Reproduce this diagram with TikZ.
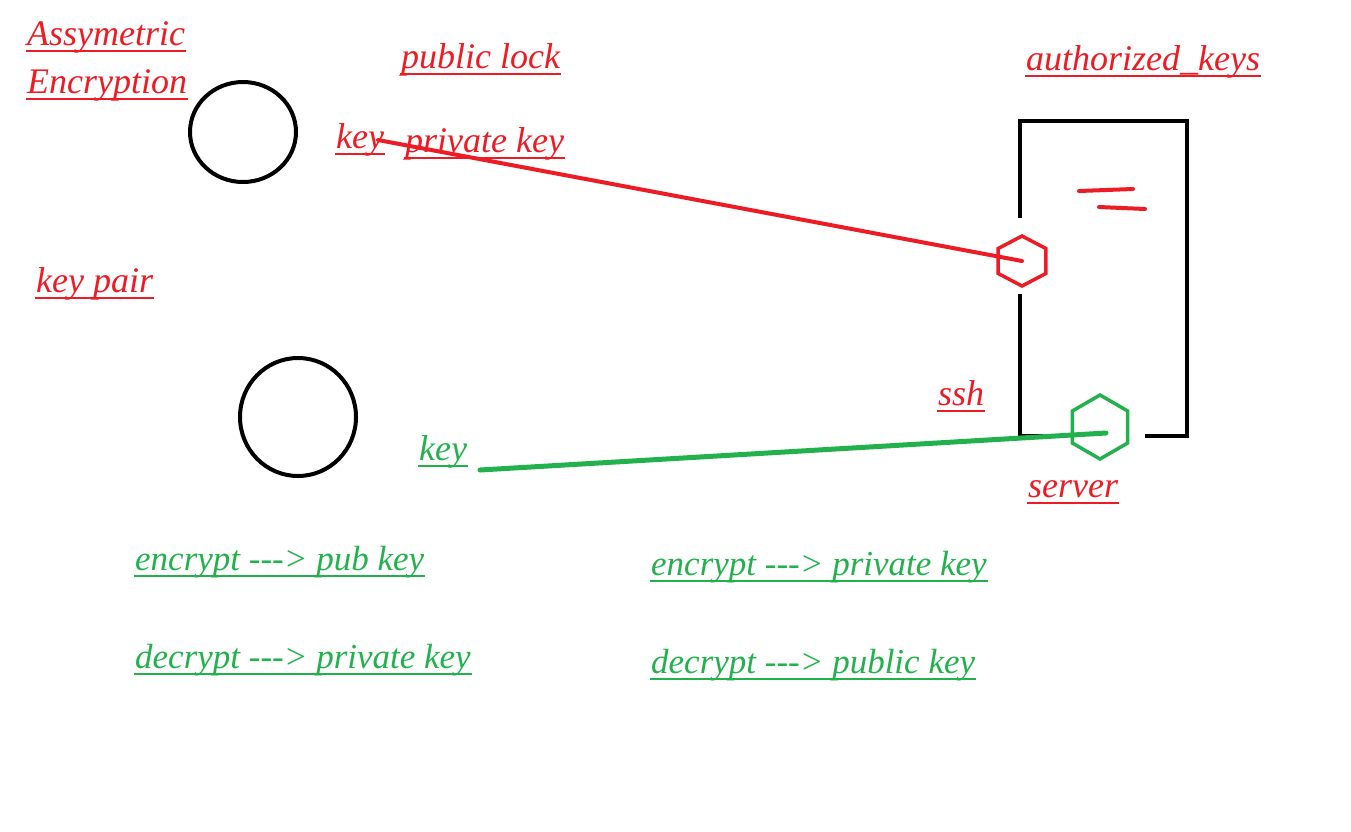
\documentclass[tikz,border=0pt]{standalone}
\usepackage{fontspec}
\setmainfont{Liberation Serif}
\usetikzlibrary{shapes.geometric}
\definecolor{pred}{HTML}{ED1C24}
\definecolor{pgreen}{HTML}{22B14C}
\tikzset{
  lbl/.style={inner sep=0pt, anchor=base west, font=\fontsize{36}{42}\selectfont\itshape},
  glbl/.style={lbl, font=\fontsize{35}{42}\selectfont\itshape},
  ring/.style={draw=black, line width=4pt, ellipse, inner sep=0pt},
  hexa/.style={regular polygon, regular polygon sides=6, shape border rotate=30, inner sep=0pt, line width=3.5pt},
  wire/.style={line width=4pt, line cap=round},
  wall/.style={draw=black, line width=4.5pt},
}
\newcommand\ulabel[6][lbl]{%
  \node[#1,text=#5] (#2) at (#3,#4) {#6};
  \draw[#5,line width=2pt] ([yshift=-6pt,xshift=-1pt]#2.base west) -- ([yshift=-6pt,xshift=1pt]#2.base east);}
\begin{document}
\begin{tikzpicture}[x=1pt,y=-1pt]
\useasboundingbox (0,0) rectangle (1351,831);
% circles
\node[ring, minimum width=106pt, minimum height=100pt] (lock1) at (243,132) {};
\node[ring, minimum width=116pt, minimum height=118pt] (lock2) at (298,417) {};
% server box
\coordinate (bl) at (1020,436);
\draw[wall] (1020,218) -- (1020,121) -- (1187,121) -- (1187,436) -- (1145,436);
\draw[wall] (1020,294) -- (bl) -- (1048,436);
% red dashes
\draw[pred, line width=4pt, line cap=round] (1079,191) -- (1133,189);
\draw[pred, line width=4pt, line cap=round] (1099,207) -- (1145,209);
% hexagons
\node[hexa, draw=pred, minimum size=50pt, xscale=1.1] (hexr) at (1022,261) {};
\node[hexa, draw=pgreen, minimum size=64pt] (hexg) at (1100,427) {};
% labels
\ulabel{asym}{27}{45}{pred}{Assymetric}
\ulabel{encr}{27}{93}{pred}{Encryption}
\ulabel{publock}{401}{68}{pred}{public lock}
\ulabel{keyr}{336}{148}{pred}{key}
\ulabel{privkey}{405}{152}{pred}{private key}
\ulabel{keypair}{36}{292}{pred}{key pair}
\ulabel{authk}{1026}{70}{pred}{authorized\_keys}
\ulabel{ssh}{938}{405}{pred}{ssh}
\ulabel{server}{1028}{497}{pred}{server}
\ulabel{keyg}{419}{460}{pgreen}{key}
\ulabel[glbl]{encpub}{135}{570}{pgreen}{encrypt -{}-{}-> pub key}
\ulabel[glbl]{decpriv}{135}{668}{pgreen}{decrypt -{}-{}-> private key}
\ulabel[glbl]{encpriv}{651}{575}{pgreen}{encrypt -{}-{}-> private key}
\ulabel[glbl]{decpub}{651}{673}{pgreen}{decrypt -{}-{}-> public key}
% connectors
\coordinate (rs) at (378,140);
\coordinate (gs) at (480,470);
\coordinate (ge) at (1106,433);
\draw[wire, pred] (rs) -- (hexr.center);
\draw[wire, pgreen, line width=5pt] (gs) -- (ge);
\end{tikzpicture}
\end{document}
